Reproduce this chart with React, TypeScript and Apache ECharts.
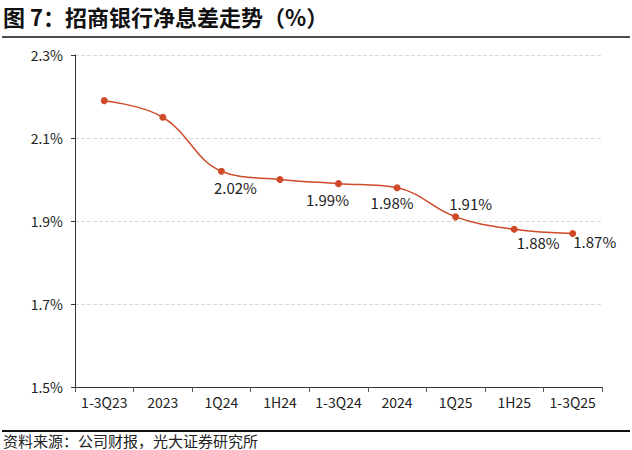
import React, { useEffect, useRef } from "react";
import * as echarts from "echarts";

const categories = ["1-3Q23", "2023", "1Q24", "1H24", "1-3Q24", "2024", "1Q25", "1H25", "1-3Q25"];
const nimValues = [2.19, 2.15, 2.02, 2.0, 1.99, 1.98, 1.91, 1.88, 1.87];
const labelShown = [false, false, true, false, true, true, true, true, true];
const labelOffsets: [number, number][] = [
  [0, 0], [0, 0], [14, 16], [0, 0], [-11, 16], [-5, 15], [15, -13], [24, 13], [22, 8],
];
const yTicks = { min: 1.5, max: 2.3, interval: 0.2 };
const titleText = "图 7：招商银行净息差走势（%）";
const sourceText = "资料来源：公司财报，光大证券研究所";

const FONT = "'Noto Sans CJK SC', 'Noto Sans', sans-serif";
const LINE_COLOR = "#cf4a2a";

export default function App() {
  const ref = useRef<HTMLDivElement>(null);
  useEffect(() => {
    document.body.style.margin = "0";
    if (!ref.current) return;
    const chart = echarts.init(ref.current, undefined, { renderer: "svg" });
    chart.setOption({
      animation: false,
      textStyle: { fontFamily: FONT },
      grid: { left: 75, right: 30, top: 55, bottom: 63 },
      graphic: [
        {
          type: "text",
          left: 3,
          top: 5,
          style: { text: titleText, font: `bold 22px ${FONT}`, fill: "#111" },
        },
        {
          type: "line",
          shape: { x1: 2, y1: 37, x2: 630, y2: 37 },
          style: { stroke: "#111", lineWidth: 1.5 },
        },
        {
          type: "line",
          shape: { x1: 2, y1: 431, x2: 630, y2: 431 },
          style: { stroke: "#111", lineWidth: 2 },
        },
        {
          type: "text",
          left: 3,
          top: 433,
          style: { text: sourceText, font: `15px ${FONT}`, fill: "#222" },
        },
      ],
      xAxis: {
        type: "category",
        data: categories,
        boundaryGap: true,
        axisLine: { lineStyle: { color: "#333", width: 1 } },
        axisTick: { show: true, length: 5, lineStyle: { color: "#555" } },
        axisLabel: { color: "#222", fontSize: 14, margin: 8, interval: 0, fontFamily: FONT },
      },
      yAxis: {
        type: "value",
        min: yTicks.min,
        max: yTicks.max,
        interval: yTicks.interval,
        axisLine: { show: true, lineStyle: { color: "#333", width: 1 } },
        axisTick: { show: true, length: 4, lineStyle: { color: "#333" } },
        axisLabel: {
          color: "#222",
          fontSize: 14,
          margin: 12,
          fontFamily: FONT,
          formatter: (v: number) => v.toFixed(1) + "%",
        },
        splitLine: { show: true, lineStyle: { color: "#d9d9d9", type: "dashed" } },
      },
      series: [
        {
          type: "line",
          smooth: 0.4,
          data: nimValues.map((v, i) => ({
            value: v,
            label: {
              show: labelShown[i],
              position: "inside",
              offset: labelOffsets[i],
              formatter: (p: any) => p.value.toFixed(2) + "%",
              color: "#222",
              fontSize: 15,
              fontFamily: FONT,
            },
          })),
          symbol: "circle",
          symbolSize: 7,
          lineStyle: { color: LINE_COLOR, width: 1.5 },
          itemStyle: { color: LINE_COLOR },
        },
      ],
    });
    return () => chart.dispose();
  }, []);
  return <div ref={ref} style={{ width: 632, height: 450 }} />;
}
